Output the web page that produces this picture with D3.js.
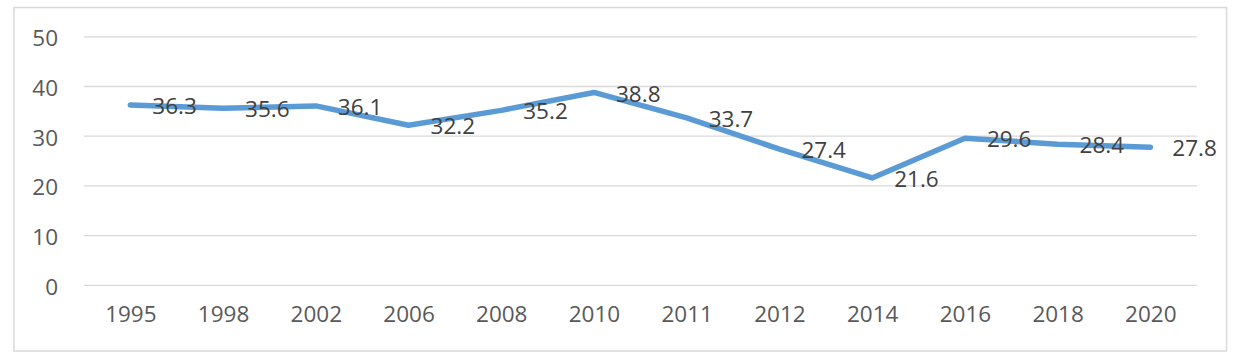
<!DOCTYPE html>
<html><head><meta charset="utf-8">
<script src="https://cdn.jsdelivr.net/npm/d3@7/dist/d3.min.js"></script>
<style>body{margin:0;background:#fff}svg{display:block}</style>
</head><body>
<svg id="c" width="1240" height="360"></svg>
<script>
const categories = ["1995","1998","2002","2006","2008","2010","2011","2012","2014","2016","2018","2020"];
const values = [36.3,35.6,36.1,32.2,35.2,38.8,33.7,27.4,21.6,29.6,28.4,27.8];
const yTicks = [0,10,20,30,40,50];

const svg = d3.select("#c");
const font = "'Open Sans', sans-serif";
const fs = 22.5;
svg.append("rect").attr("x",14).attr("y",7.5).attr("width",1212.5).attr("height",343.5)
  .attr("fill","#fff").attr("stroke","#d9d9d9").attr("stroke-width",1.5);

const x = d3.scalePoint().domain(categories).range([84,1196.7]).padding(0.5);
const y = d3.scaleLinear().domain([0,50]).range([285.3,36.8]);

const g = svg.append("g");
g.selectAll("line.grid").data(yTicks).join("line").attr("class","grid")
  .attr("x1",84).attr("x2",1196.7).attr("y1",d=>y(d)).attr("y2",d=>y(d))
  .attr("stroke","#d9d9d9").attr("stroke-width",1.3);

const yAxis = svg.append("g").attr("transform","translate(84,0)")
  .call(d3.axisLeft(y).tickValues(yTicks).tickSize(0).tickPadding(26));
yAxis.select(".domain").remove();
yAxis.selectAll("text").attr("font-family",font).attr("font-size",fs).attr("fill","#595959").attr("dy","0.4em");

const xAxis = svg.append("g").attr("transform","translate(0,285.3)")
  .call(d3.axisBottom(x).tickSize(0).tickPadding(21));
xAxis.select(".domain").remove();
xAxis.selectAll("text").attr("font-family",font).attr("font-size",fs).attr("fill","#595959");

const line = d3.line().x((d,i)=>x(categories[i])).y(d=>y(d));
svg.append("path").datum(values).attr("d",line).attr("fill","none")
  .attr("stroke","#5b9bd5").attr("stroke-width",5.5).attr("stroke-linejoin","round").attr("stroke-linecap","round");

svg.selectAll("text.lbl").data(values).join("text").attr("class","lbl")
  .attr("x",(d,i)=>x(categories[i])+22).attr("y",d=>y(d)+1)
  .attr("dy","0.36em").attr("font-family",font).attr("font-size",fs).attr("fill","#404040")
  .text(d=>d.toFixed(1));
</script>
</body></html>
